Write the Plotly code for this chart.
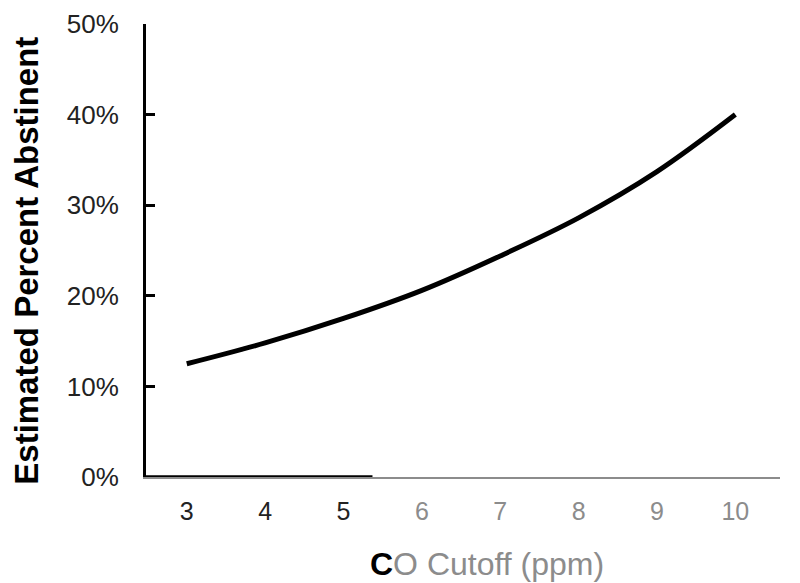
import plotly.graph_objects as go

cutoff = [3, 4, 5, 6, 7, 8, 9, 10]
abstinent = [0.125, 0.148, 0.175, 0.206, 0.244, 0.286, 0.337, 0.400]

y_ticks = [0, 0.1, 0.2, 0.3, 0.4, 0.5]
y_labels = ["0%", "10%", "20%", "30%", "40%", "50%"]

grey = "#8c8c8c"
x_labels = [str(c) if c <= 5 else f"<span style='color:{grey}'>{c}</span>" for c in cutoff]

fig = go.Figure()
fig.add_trace(go.Scatter(x=cutoff, y=abstinent, mode="lines",
                         line=dict(color="black", width=5, shape="spline"),
                         showlegend=False))

# page body adds an 8px offset, margins compensate for it
fig.update_layout(
    width=800, height=583,
    margin=dict(l=138, r=28, t=16, b=114),
    plot_bgcolor="white", paper_bgcolor="white",
    font=dict(family="Liberation Sans, Arial, sans-serif", color="black"),
)
fig.update_xaxes(
    range=[2.48, 10.57], tickvals=cutoff, ticktext=x_labels, automargin=False,
    showgrid=False, zeroline=False, showline=True, linecolor=grey, linewidth=2,
    ticks="", tickfont=dict(size=25, color="#222"), ticklabelstandoff=11,
)
fig.update_yaxes(
    range=[0, 0.5], tickvals=y_ticks, ticktext=y_labels, automargin=False,
    showgrid=False, zeroline=False, showline=True, linecolor="black", linewidth=3,
    ticks="inside", ticklen=9, tickwidth=2.5, tickcolor="black",
    tickfont=dict(size=26, color="#222"), ticklabelstandoff=19,
)
# axis titles sit a bit off-centre in the original
fig.add_annotation(text=f"<b>C</b><span style='color:{grey}'>O Cutoff (ppm)</span>",
                   xref="paper", yref="paper", x=0.538, y=-0.192,
                   xanchor="center", yanchor="middle", showarrow=False,
                   font=dict(size=32, color="black"))
fig.add_annotation(text="<b>Estimated Percent Abstinent</b>",
                   xref="paper", yref="paper", x=-0.188, y=0.477, textangle=-90,
                   xanchor="center", yanchor="middle", showarrow=False,
                   font=dict(size=33, color="black"))
# darker start of the x axis line
fig.add_shape(type="line", xref="x", yref="y", x0=2.48, x1=5.37, y0=0, y1=0,
              line=dict(color="black", width=3.5))

fig.write_html("out.html")
